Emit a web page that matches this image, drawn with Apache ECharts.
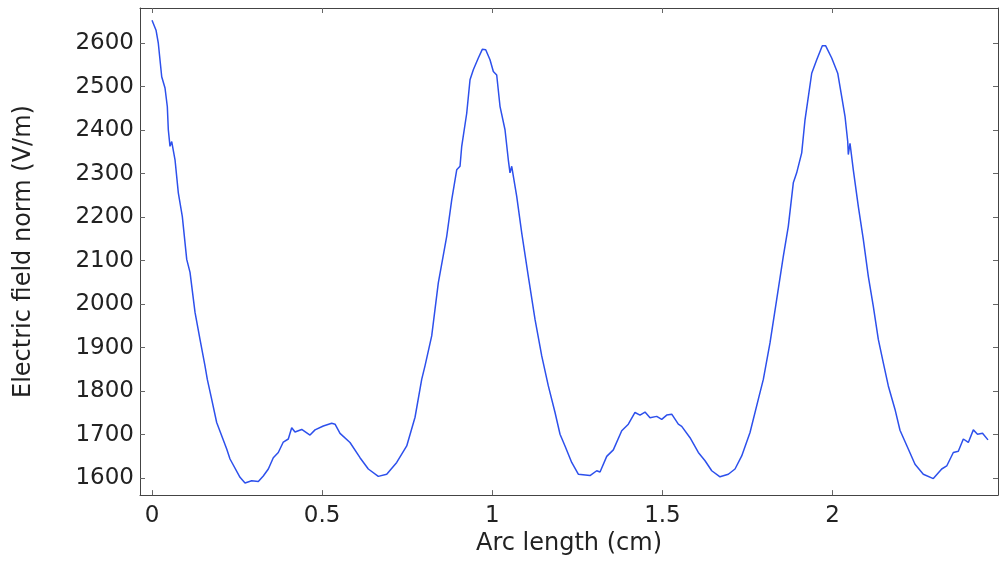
<!DOCTYPE html>
<html>
<head>
<meta charset="utf-8">
<script src="https://cdn.jsdelivr.net/npm/echarts@6/dist/echarts.min.js"></script>
<style>html,body{margin:0;padding:0;background:#fff;}#c{width:1000px;height:561px;}</style>
</head>
<body>
<div id="c"></div>
<script>
const arcLength = [0,0.0118,0.0185,0.0285,0.0382,0.045,0.0479,0.0529,0.0579,0.0676,0.0773,0.089,0.102,0.1117,0.1264,0.141,0.1557,0.1625,0.1754,0.19,0.2195,0.2292,0.2586,0.2733,0.293,0.3124,0.327,0.3418,0.3564,0.3711,0.3858,0.4005,0.4105,0.4202,0.4399,0.4643,0.479,0.5034,0.5281,0.5378,0.5525,0.5818,0.6112,0.6356,0.665,0.6897,0.7191,0.7485,0.7729,0.7925,0.8022,0.8219,0.8413,0.866,0.8807,0.8954,0.9051,0.9101,0.9248,0.9345,0.9442,0.9589,0.9706,0.9806,0.9932,1.003,1.0129,1.0226,1.0373,1.047,1.052,1.057,1.0717,1.0864,1.1058,1.1255,1.1452,1.1646,1.1843,1.199,1.2136,1.2333,1.2527,1.2871,1.3068,1.3165,1.3362,1.3556,1.3803,1.3997,1.4193,1.434,1.4487,1.4634,1.4831,1.4978,1.5125,1.5272,1.5466,1.5566,1.581,1.6054,1.6251,1.6448,1.6691,1.6935,1.7132,1.7329,1.7573,1.7816,1.7964,1.816,1.8357,1.8551,1.8698,1.8845,1.8944,1.9092,1.9189,1.9386,1.9533,1.9697,1.9797,1.9973,2.015,2.0267,2.0364,2.0444,2.0461,2.0511,2.0608,2.0755,2.0902,2.1049,2.1196,2.1343,2.149,2.1637,2.1834,2.198,2.2224,2.2421,2.2665,2.2959,2.3206,2.3353,2.3547,2.3694,2.3841,2.3988,2.4135,2.4258,2.4405,2.4566];
const fieldNorm = [2653,2630,2600,2523,2497,2454,2401,2363,2374,2332,2256,2202,2103,2073,1981,1919,1858,1827,1781,1728,1667,1644,1602,1589,1594,1592,1605,1621,1647,1659,1683,1690,1716,1706,1712,1699,1711,1720,1726,1724,1703,1682,1647,1621,1604,1609,1636,1674,1740,1827,1858,1927,2049,2156,2240,2309,2317,2363,2439,2516,2539,2566,2586,2585,2562,2535,2527,2455,2401,2332,2302,2317,2248,2164,2064,1965,1881,1812,1751,1701,1674,1636,1609,1606,1617,1614,1650,1665,1709,1724,1751,1745,1752,1739,1742,1735,1745,1747,1724,1719,1693,1659,1640,1617,1603,1609,1621,1651,1705,1781,1827,1911,2011,2110,2179,2279,2302,2348,2424,2531,2562,2594,2594,2566,2531,2477,2432,2374,2344,2370,2309,2225,2149,2064,1995,1919,1865,1812,1758,1710,1667,1632,1609,1599,1621,1628,1659,1662,1690,1682,1711,1701,1703,1688];
const xTicks = [0, 0.5, 1, 1.5, 2];
const yTicks = [1600, 1700, 1800, 1900, 2000, 2100, 2200, 2300, 2400, 2500, 2600];
const xTitle = 'Arc length (cm)';
const yTitle = 'Electric field norm (V/m)';

const points = arcLength.map((x, i) => [x, fieldNorm[i]]);
const tickFont = {fontFamily: 'DejaVu Sans', fontSize: 23, color: '#222'};
const titleFont = {fontFamily: 'DejaVu Sans', fontSize: 24, color: '#222'};
const lineStyle = {color: '#444', width: 1};
const xMin = -0.0353, xMax = 2.486, yMin = 1561, yMax = 2681;
const fmt = v => String(v);

const chart = echarts.init(document.getElementById('c'), null, {renderer: 'canvas'});
chart.setOption({
  animation: false,
  backgroundColor: '#fff',
  grid: {left: 140, right: 2, top: 8, bottom: 65, containLabel: false},
  xAxis: [{
    type: 'value', min: xMin, max: xMax, position: 'bottom',
    name: xTitle, nameLocation: 'middle', nameGap: 35,
    nameTextStyle: titleFont,
    axisLine: {show: true, onZero: false, lineStyle: lineStyle},
    axisTick: {show: true, inside: true, length: 5, customValues: xTicks, lineStyle: {color: '#666'}},
    axisLabel: {show: true, customValues: xTicks, margin: 9, formatter: fmt, ...tickFont},
    splitLine: {show: false}
  }, {
    type: 'value', min: xMin, max: xMax, position: 'top',
    axisLine: {show: true, onZero: false, lineStyle: lineStyle},
    axisTick: {show: true, inside: true, length: 5, customValues: xTicks, lineStyle: {color: '#666'}},
    axisLabel: {show: false},
    splitLine: {show: false}
  }],
  yAxis: [{
    type: 'value', min: yMin, max: yMax, position: 'left',
    name: yTitle, nameLocation: 'middle', nameGap: 104,
    nameTextStyle: titleFont,
    axisLine: {show: true, onZero: false, lineStyle: lineStyle},
    axisTick: {show: true, inside: true, length: 5, customValues: yTicks, lineStyle: {color: '#666'}},
    axisLabel: {show: true, customValues: yTicks, margin: 6, formatter: fmt, ...tickFont},
    splitLine: {show: false}
  }, {
    type: 'value', min: yMin, max: yMax, position: 'right',
    axisLine: {show: true, onZero: false, lineStyle: lineStyle},
    axisTick: {show: true, inside: true, length: 5, customValues: yTicks, lineStyle: {color: '#666'}},
    axisLabel: {show: false},
    splitLine: {show: false}
  }],
  series: [{
    type: 'line',
    xAxisIndex: 0, yAxisIndex: 0,
    data: points,
    showSymbol: false,
    smooth: false,
    lineStyle: {color: '#2d50ec', width: 1.5},
    itemStyle: {color: '#2d50ec'}
  }]
});
</script>
</body>
</html>
